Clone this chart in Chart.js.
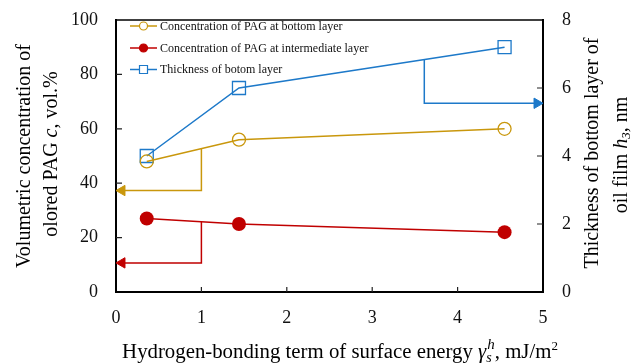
<!DOCTYPE html>
<html>
<head>
<meta charset="utf-8">
<script src="https://cdn.jsdelivr.net/npm/chart.js@4"></script>
<style>
  html, body { margin: 0; padding: 0; background: #fff; }
  #wrap { width: 635px; height: 364px; }
</style>
</head>
<body>
<div id="wrap"><canvas id="pagChart" width="635" height="364"></canvas></div>
<script>
// Hydrogen-bonding term of surface energy, mJ/m2
const surfaceEnergy = [0.36, 1.44, 4.55];
// PAG concentration, vol.%
const pagBottom = [48, 56, 60];
const pagIntermediate = [27, 25, 22];
// thickness of bottom layer h3, nm
const bottomThickness = [4.0, 6.0, 7.2];

const xTicks = [0, 1, 2, 3, 4, 5];
const leftTicks = [0, 20, 40, 60, 80, 100];
const rightTicks = [0, 2, 4, 6, 8];

// axis pointers: [x, y] corners, last one holds the arrow head
const arrowBottom = [[1, 52.8], [1, 37.3], [0.07, 37.3]];
const arrowIntermediate = [[1, 25.8], [1, 10.7], [0.07, 10.7]];
const arrowThickness = [[3.61, 6.84], [3.61, 5.55], [4.93, 5.55]];

const seriesNames = [
    'Concentration of PAG at bottom layer',
    'Concentration of PAG at intermediate layer',
    'Thickness of botom layer'
];

const GOLD = '#C9970C';
const RED = '#C00000';
const BLUE = '#1D79C9';
const SERIF = "'Liberation Serif', 'Times New Roman', serif";

const toPoints = (xs, ys) => xs.map((x, i) => ({ x: x, y: ys[i] }));
const toArrow = pairs => pairs.map(p => ({ x: p[0], y: p[1] }));

function arrowDataset(pairs, color, axis, rotation) {
    return {
        data: toArrow(pairs),
        yAxisID: axis,
        showLine: true,
        borderColor: color,
        borderWidth: 1.5,
        pointRadius: [0, 0, 6],
        pointStyle: 'triangle',
        rotation: rotation,
        pointBackgroundColor: color,
        pointBorderColor: color,
        pointBorderWidth: 1
    };
}

// draws a run of text pieces (italic / sub / sup) starting at x
function drawRich(ctx, parts, x, y, size) {
    let cx = x;
    parts.forEach(p => {
        const s = p.size || size;
        ctx.font = (p.italic ? 'italic ' : '') + s + 'px ' + SERIF;
        ctx.fillText(p.t, cx + (p.dx || 0), y + (p.dy || 0));
        if (!p.noAdvance) cx += ctx.measureText(p.t).width + (p.dx || 0);
    });
    return cx - x;
}
function richWidth(ctx, parts, size) {
    let w = 0;
    parts.forEach(p => {
        const s = p.size || size;
        ctx.font = (p.italic ? 'italic ' : '') + s + 'px ' + SERIF;
        if (!p.noAdvance) w += ctx.measureText(p.t).width + (p.dx || 0);
    });
    return w;
}
function drawRichCentered(ctx, parts, cx, y, size) {
    drawRich(ctx, parts, cx - richWidth(ctx, parts, size) / 2, y, size);
}

const frameAndTitles = {
    id: 'frameAndTitles',
    afterDraw(chart) {
        const { ctx, chartArea: a, scales } = chart;
        ctx.save();
        // top frame line
        ctx.strokeStyle = '#000';
        ctx.lineWidth = 1.5;
        ctx.beginPath();
        ctx.moveTo(a.left, a.top);
        ctx.lineTo(a.right, a.top);
        ctx.stroke();

        // inward tick marks
        ctx.strokeStyle = '#222';
        ctx.lineWidth = 1.2;
        ctx.beginPath();
        xTicks.slice(1, -1).forEach(v => {
            const px = scales.x.getPixelForValue(v);
            ctx.moveTo(px, a.bottom);
            ctx.lineTo(px, a.bottom - 5);
        });
        leftTicks.slice(1, -1).forEach(v => {
            const py = scales.y.getPixelForValue(v);
            ctx.moveTo(a.left, py);
            ctx.lineTo(a.left + 6, py);
        });
        rightTicks.slice(1, -1).forEach(v => {
            const py = scales.y1.getPixelForValue(v);
            ctx.moveTo(a.right, py);
            ctx.lineTo(a.right - 6, py);
        });
        ctx.stroke();

        ctx.fillStyle = '#000';
        ctx.textBaseline = 'middle';
        const ts = 20;
        const midY = (a.top + a.bottom) / 2;

        // left axis title
        ctx.save();
        ctx.translate(25, midY);
        ctx.rotate(-Math.PI / 2);
        drawRichCentered(ctx, [{ t: 'Volumetric concentration of' }], 0, 0, ts);
        ctx.restore();
        ctx.save();
        ctx.translate(52, midY - 2);
        ctx.rotate(-Math.PI / 2);
        drawRichCentered(ctx, [{ t: 'olored PAG ' }, { t: 'c', italic: true }, { t: ', vol.%' }], 0, 0, ts);
        ctx.restore();

        // right axis title
        ctx.save();
        ctx.translate(593, midY - 3);
        ctx.rotate(-Math.PI / 2);
        drawRichCentered(ctx, [{ t: 'Thickness of bottom layer of' }], 0, 0, ts);
        ctx.restore();
        ctx.save();
        ctx.translate(622, midY - 1);
        ctx.rotate(-Math.PI / 2);
        drawRichCentered(ctx, [{ t: 'oil film ' }, { t: 'h', italic: true }, { t: '3', italic: true, size: 13, dy: 5 }, { t: ', nm' }], 0, 0, ts);
        ctx.restore();

        // bottom axis title
        ctx.textBaseline = 'alphabetic';
        drawRichCentered(ctx, [
            { t: 'Hydrogen-bonding term of surface energy ' },
            { t: '\u03B3', italic: true },
            { t: 's', italic: true, size: 14, dy: 4, noAdvance: true },
            { t: 'h', italic: true, size: 15, dy: -9, dx: 1 },
            { t: ', mJ/m' },
            { t: '2', size: 13, dy: -8 }
        ], 340, 358, 20.8);
        ctx.restore();
    }
};

const insideLegend = {
    id: 'insideLegend',
    afterDatasetsDraw(chart) {
        const { ctx } = chart;
        const rows = [26, 48, 69.5];
        ctx.save();
        chart.data.datasets.slice(0, 3).forEach((ds, i) => {
            const y = rows[i];
            ctx.strokeStyle = ds.borderColor;
            ctx.lineWidth = 1.5;
            ctx.beginPath();
            ctx.moveTo(130, y);
            ctx.lineTo(157, y);
            ctx.stroke();
            ctx.beginPath();
            if (ds.pointStyle === 'rect') {
                ctx.rect(139.5, y - 4, 8, 8);
            } else {
                ctx.arc(143.5, y, 4, 0, Math.PI * 2);
            }
            ctx.fillStyle = ds.pointBackgroundColor === 'transparent' ? '#fff' : ds.pointBackgroundColor;
            ctx.fill();
            ctx.lineWidth = 1.2;
            ctx.stroke();
            ctx.fillStyle = '#111';
            ctx.font = '12px ' + SERIF;
            ctx.textBaseline = 'middle';
            ctx.fillText(seriesNames[i], 160, y + 0.5);
        });
        ctx.restore();
    }
};

const tickFont = { family: SERIF, size: 18 };

// fixed axis box: no extra room reserved for label overflow
function fixVertical(width) {
    return s => {
        s.width = width;
        s.paddingTop = 0;
        s.paddingBottom = 0;
    };
}

new Chart(document.getElementById('pagChart'), {
    type: 'scatter',
    data: {
        datasets: [
            {
                label: seriesNames[0],
                data: toPoints(surfaceEnergy, pagBottom),
                yAxisID: 'y',
                showLine: true,
                borderColor: GOLD,
                borderWidth: 1.5,
                pointStyle: 'circle',
                pointRadius: 6.5,
                pointBorderWidth: 1.3,
                pointBorderColor: GOLD,
                pointBackgroundColor: 'transparent'
            },
            {
                label: seriesNames[1],
                data: toPoints(surfaceEnergy, pagIntermediate),
                yAxisID: 'y',
                showLine: true,
                borderColor: RED,
                borderWidth: 1.5,
                pointStyle: 'circle',
                pointRadius: 7,
                pointBorderWidth: 0,
                pointBorderColor: RED,
                pointBackgroundColor: RED
            },
            {
                label: seriesNames[2],
                data: toPoints(surfaceEnergy, bottomThickness),
                yAxisID: 'y1',
                showLine: true,
                borderColor: BLUE,
                borderWidth: 1.5,
                pointStyle: 'rect',
                pointRadius: 9.2,
                pointBorderWidth: 1.3,
                pointBorderColor: BLUE,
                pointBackgroundColor: 'transparent'
            },
            arrowDataset(arrowBottom, GOLD, 'y', -90),
            arrowDataset(arrowIntermediate, RED, 'y', -90),
            arrowDataset(arrowThickness, BLUE, 'y1', 90)
        ]
    },
    options: {
        responsive: false,
        animation: false,
        layout: { padding: { top: 20, left: 0, right: 0, bottom: 0 } },
        plugins: {
            legend: { display: false },
            tooltip: { enabled: false }
        },
        scales: {
            x: {
                type: 'linear',
                min: 0,
                max: 5,
                afterBuildTicks: s => { s.ticks = xTicks.map(v => ({ value: v })); },
                afterFit: s => { s.height = 72; s.paddingLeft = 0; s.paddingRight = 0; },
                grid: { display: false, drawTicks: false },
                border: { display: true, color: '#000', width: 2 },
                ticks: { color: '#111', font: tickFont, padding: 15 }
            },
            y: {
                position: 'left',
                min: 0,
                max: 100,
                afterBuildTicks: s => { s.ticks = leftTicks.map(v => ({ value: v })); },
                afterFit: fixVertical(116),
                grid: { display: false, drawTicks: false },
                border: { display: true, color: '#000', width: 2 },
                ticks: { color: '#111', font: tickFont, padding: 18 }
            },
            y1: {
                position: 'right',
                min: 0,
                max: 8,
                afterBuildTicks: s => { s.ticks = rightTicks.map(v => ({ value: v })); },
                afterFit: fixVertical(92),
                grid: { display: false, drawTicks: false },
                border: { display: true, color: '#000', width: 2 },
                ticks: { color: '#111', font: tickFont, padding: 19 }
            }
        }
    },
    plugins: [frameAndTitles, insideLegend]
});
</script>
</body>
</html>
